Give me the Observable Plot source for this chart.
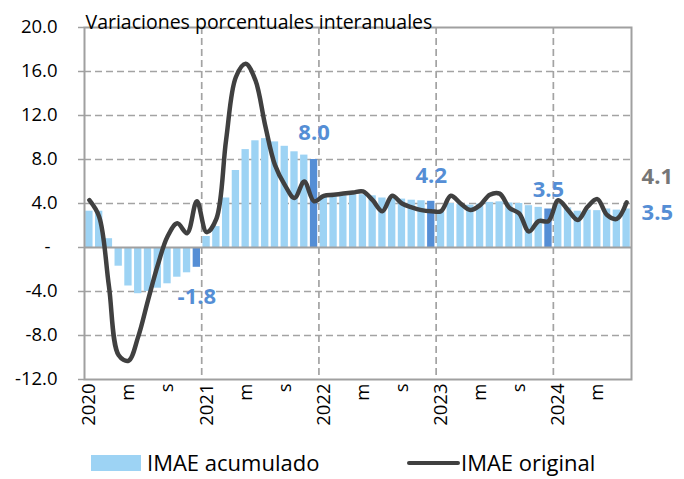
<!DOCTYPE html>
<html>
<head>
<meta charset="utf-8">
<script src="https://cdn.jsdelivr.net/npm/d3@7"></script>
<script src="https://cdn.jsdelivr.net/npm/@observablehq/plot@0.6"></script>
<style>
  body { margin: 0; background: #fff; font-family: "Open Sans", sans-serif; }
  #wrap { position: relative; width: 684px; height: 479px; overflow: hidden; }
  #legend { position: absolute; left: 0; top: 440px; width: 684px; height: 39px; font-size: 22px; color: #000; }
  .sw-bar { position: absolute; left: 91px; top: 15px; width: 50px; height: 16px; background: #9DD3F4; }
  .lab1 { position: absolute; left: 147px; top: 6px; line-height: 32px; white-space: nowrap; }
  .sw-line { position: absolute; left: 407px; top: 21px; width: 53px; height: 4px; background: #404040; border-radius: 2px; }
  .lab2 { position: absolute; left: 461px; top: 6px; line-height: 32px; white-space: nowrap; }
</style>
</head>
<body>
<div id="wrap">
  <div id="chart"></div>
  <div id="legend">
    <div class="sw-bar"></div><div class="lab1">IMAE acumulado</div>
    <div class="sw-line"></div><div class="lab2">IMAE original</div>
  </div>
</div>
<script>
// ---- Data ----
const years = [2020, 2021, 2022, 2023, 2024];
const monthLabels = {1: null, 5: "m", 9: "s"}; // null -> year label
const title = "Variaciones porcentuales interanuales";

// IMAE acumulado (bars), by year
const acum2020 = [3.3, 3.3, 0.8, -1.7, -3.5, -4.2, -4.0, -3.7, -3.3, -2.7, -2.3, -1.8];
const acum2021 = [1.0, 1.9, 4.5, 7.0, 8.9, 9.7, 9.9, 9.6, 9.2, 8.7, 8.4, 8.0];
const acum2022 = [4.7, 4.6, 4.7, 4.8, 4.8, 4.7, 4.5, 4.5, 4.4, 4.3, 4.25, 4.2];
const acum2023 = [3.3, 4.0, 3.95, 3.85, 3.95, 4.1, 4.15, 4.05, 4.0, 3.8, 3.65, 3.5];
const acum2024 = [3.9, 3.6, 3.3, 3.4, 3.35, 3.5, 3.4, 3.5];

// IMAE original (line), by year
const orig2020 = [4.3, 2.8, -3.5, -9.8, -10.3, -8.1, -4.8, -1.6, 1.0, 2.2, 1.3, 4.2];
const orig2021 = [1.4, 2.6, 9.8, 15.5, 16.7, 15.2, 11.1, 7.5, 5.7, 4.5, 6.0, 4.2];
const orig2022 = [4.7, 4.8, 4.9, 5.0, 5.1, 4.3, 3.3, 4.7, 4.0, 3.65, 3.4, 3.3];
const orig2023 = [3.3, 4.7, 4.0, 3.4, 3.85, 4.8, 4.9, 3.6, 3.1, 1.45, 2.4, 2.4];
const orig2024 = [4.3, 3.4, 2.5, 3.7, 4.4, 2.95, 2.6, 4.1];

const acumByYear = [acum2020, acum2021, acum2022, acum2023, acum2024];
const origByYear = [orig2020, orig2021, orig2022, orig2023, orig2024];

const yTicks = [20, 16, 12, 8, 4, -4, -8, -12];
const gridY = [16, 12, 8, 4, -4, -8];

// ---- Build table ----
const rows = [];
years.forEach((yr, yi) => {
  acumByYear[yi].forEach((v, mi) => {
    rows.push({key: `${yr}-${mi + 1}`, year: yr, month: mi + 1, acum: v, orig: origByYear[yi][mi]});
  });
});
const keys = rows.map(d => d.key);
const tickKeys = rows.filter(d => d.month in monthLabels).map(d => d.key);
const tickText = new Map(rows.filter(d => d.month in monthLabels)
  .map(d => [d.key, monthLabels[d.month] === null ? String(d.year) : monthLabels[d.month]]));
const last = rows[rows.length - 1];

const W = 684, H = 440, ML = 84, MR = 53, MT = 27, MB = 61;
const step = (W - ML - MR) / keys.length;

const light = "#9DD3F4", dark = "#558ED5", lineC = "#404040", gridC = "#A3A3A3", frameC = "#A0A0A0";
const font = "Open Sans";

const decRow = y => rows.filter(d => d.year === y && d.month === 12);

const chart = Plot.plot({
  width: W, height: H,
  marginLeft: ML, marginRight: MR, marginTop: MT, marginBottom: MB,
  style: {fontFamily: font, background: "#fff", overflow: "visible"},
  x: {type: "band", domain: keys, paddingInner: 0.25, paddingOuter: 0.125, label: null},
  y: {domain: [-12, 20], label: null},
  marks: [
    Plot.ruleY(gridY, {stroke: gridC, strokeWidth: 1.7, strokeDasharray: "7,4"}),
    Plot.ruleX(rows.filter(d => d.month === 1 && d.year > years[0]), {x: "key", dx: -step / 2, stroke: gridC, strokeWidth: 1.7, strokeDasharray: "7,4"}),
    Plot.barY(rows.filter(d => d.month !== 12), {x: "key", y: "acum", fill: light}),
    Plot.barY(rows.filter(d => d.month === 12), {x: "key", y: "acum", fill: dark}),
    Plot.ruleY([0], {stroke: frameC, strokeWidth: 2}),
    Plot.frame({stroke: frameC, strokeWidth: 2}),
    Plot.line(rows, {x: "key", y: "orig", stroke: lineC, strokeWidth: 4.5, curve: "catmull-rom", strokeLinejoin: "round", strokeLinecap: "round"}),
    Plot.axisY({ticks: yTicks, tickFormat: d => d.toFixed(1), tickSize: 6, tickPadding: 21, stroke: frameC, fill: "#000", fontSize: 18.5, strokeWidth: 1.5}),
    Plot.axisY({ticks: [0], tickFormat: () => "-", tickSize: 6, tickPadding: 28, stroke: frameC, fill: "#000", fontSize: 18.5, strokeWidth: 1.5}),
    Plot.axisX({ticks: tickKeys, tickFormat: k => tickText.get(k), tickRotate: -90, tickSize: 0, tickPadding: 4, fill: "#000", fontSize: 18.5}),
    Plot.text([title], {frameAnchor: "top-left", dx: 1, dy: -12, textAnchor: "start", fontSize: 19.5, fill: "#000"}),
    Plot.text(decRow(2020), {x: "key", y: "acum", text: d => d.acum.toFixed(1), dy: 30, fill: dark, fontWeight: "bold", fontSize: 22}),
    Plot.text(decRow(2021), {x: "key", y: "acum", text: d => d.acum.toFixed(1), dy: -27, fill: dark, fontWeight: "bold", fontSize: 22}),
    Plot.text(decRow(2022), {x: "key", y: "acum", text: d => d.acum.toFixed(1), dy: -25, fill: dark, fontWeight: "bold", fontSize: 22}),
    Plot.text(decRow(2023), {x: "key", y: "acum", text: d => d.acum.toFixed(1), dy: -19, fill: dark, fontWeight: "bold", fontSize: 22}),
    Plot.text([last], {x: "key", y: "orig", text: d => d.orig.toFixed(1), dx: 15, dy: -25, textAnchor: "start", fill: "#767676", fontWeight: "bold", fontSize: 22}),
    Plot.text([last], {x: "key", y: "acum", text: d => d.acum.toFixed(1), dx: 15, dy: 3.5, textAnchor: "start", fill: dark, fontWeight: "bold", fontSize: 22})
  ]
});
document.getElementById("chart").appendChild(chart);
</script>
</body>
</html>
